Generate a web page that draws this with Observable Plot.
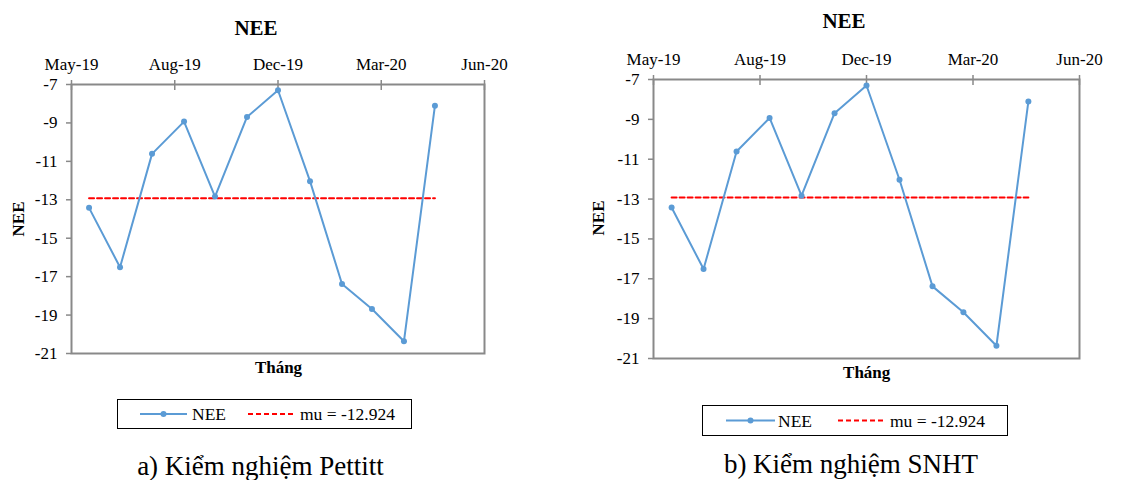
<!DOCTYPE html>
<html>
<head>
<meta charset="utf-8">
<script src="https://cdn.jsdelivr.net/npm/d3@7"></script>
<script src="https://cdn.jsdelivr.net/npm/@observablehq/plot@0.6"></script>
<style>
  html, body { margin: 0; padding: 0; background: #fff; }
  #page { position: relative; width: 1124px; height: 480px; overflow: hidden; background: #fff; font-family: "Liberation Serif", "DejaVu Serif", serif; color: #000; }
  .abs { position: absolute; white-space: nowrap; line-height: 1; }
  .title { font-size: 21px; font-weight: bold; transform: translateX(-50%); }
  .xlab { font-size: 17px; font-weight: bold; transform: translateX(-50%); }
  .ylab { font-size: 17px; font-weight: bold; transform: translate(-50%, -50%) rotate(-90deg); }
  .cap { font-size: 27px; transform: translateX(-50%); }
  .leg { font-size: 17.5px; }
  .legbox { position: absolute; border: 1.5px solid #000; box-sizing: border-box; }
  svg.mk { position: absolute; overflow: visible; }
</style>
</head>
<body>
<div id="page"></div>
<script>
// ---- data ----
const months = ["2019-06-01","2019-07-01","2019-08-01","2019-09-01","2019-10-01","2019-11-01",
                "2019-12-01","2020-01-01","2020-02-01","2020-03-01","2020-04-01","2020-05-01"];
const nee = [-13.42, -16.51, -10.61, -8.93, -12.83, -8.69, -7.30, -12.03, -17.38, -18.68, -20.36, -8.10];
const mu = -12.924;
const xTickDates = ["2019-05-15","2019-08-23","2019-12-01","2020-03-10","2020-06-18"];
const yTicks = [-7, -9, -11, -13, -15, -17, -19, -21];
const seriesName = "NEE";
const muLabel = "mu = -12.924";
const titleText = "NEE";
const xLabelText = "Tháng";
const yLabelText = "NEE";
const captions = ["a) Kiểm nghiệm Pettitt", "b) Kiểm nghiệm SNHT"];

const blue = "#5B9BD5";
const red = "#FF0000";
const axisGray = "#898989";
const serif = "Liberation Serif, DejaVu Serif, serif";

const data = months.map((m, i) => ({date: new Date(m), v: nee[i]}));
const muLine = [{date: new Date(months[0]), v: mu}, {date: new Date(months[months.length - 1]), v: mu}];
const tickDates = xTickDates.map(d => new Date(d));
const fmt = d3.utcFormat("%b-%y");

function panel(cfg) {
  return Plot.plot({
    width: cfg.width,
    height: cfg.height,
    marginLeft: cfg.ml,
    marginRight: cfg.mr,
    marginTop: cfg.mt,
    marginBottom: cfg.mb,
    style: {fontFamily: serif, fontSize: "17px", color: "#000", background: "transparent", overflow: "visible"},
    x: {type: "utc", domain: [tickDates[0], tickDates[tickDates.length - 1]]},
    y: {domain: [-21, -7]},
    marks: [
      Plot.axisX({anchor: "top", ticks: tickDates, tickFormat: fmt, tickSize: 10, dy: 5, tickPadding: 10,
                  label: null, stroke: axisGray, strokeWidth: 1.5, fill: "#000", fontSize: 17, fontFamily: serif}),
      Plot.axisY({anchor: "left", ticks: yTicks, tickFormat: d => String(d), tickSize: 5, tickPadding: 9,
                  label: null, stroke: axisGray, strokeWidth: 1.5, fill: "#000", fontSize: 17, fontFamily: serif}),
      Plot.frame({stroke: axisGray, strokeWidth: 2}),
      Plot.line(muLine, {x: "date", y: "v", stroke: red, strokeWidth: 2, strokeDasharray: "5,3"}),
      Plot.line(data, {x: "date", y: "v", stroke: blue, strokeWidth: 2}),
      Plot.dot(data, {x: "date", y: "v", r: 3, fill: blue, stroke: "none"})
    ]
  });
}

const page = document.getElementById("page");
function addDiv(cls, text, left, top) {
  const d = document.createElement("div");
  d.className = "abs " + cls;
  d.textContent = text;
  d.style.left = left + "px";
  d.style.top = top + "px";
  page.appendChild(d);
  return d;
}

const panels = [
  {left: 0, top: 44, width: 540, height: 329, ml: 71, mr: 56, mt: 40, mb: 20,
   titleX: 256, titleTop: 17.5, xlabX: 278.5, xlabTop: 358.5, ylabX: 18, ylabY: 218.5,
   box: [117, 399, 295, 30], blueL: [140, 187], redL: [248, 294], neeX: 192, muX: 300, legBase: 420.5,
   capX: 260.5, capTop: 453},
  {left: 580, top: 39, width: 544, height: 339, ml: 73, mr: 45, mt: 40, mb: 20,
   titleX: 844, titleTop: 10.7, xlabX: 866.7, xlabTop: 363.8, ylabX: 598, ylabY: 218,
   box: [702, 405, 306, 31], blueL: [726, 775], redL: [838, 885], neeX: 778, muX: 890, legBase: 427.5,
   capX: 851, capTop: 451}
];

panels.forEach((p, i) => {
  const svg = panel(p);
  svg.style.position = "absolute";
  svg.style.left = p.left + "px";
  svg.style.top = p.top + "px";
  page.appendChild(svg);

  addDiv("title", titleText, p.titleX, p.titleTop);
  addDiv("xlab", xLabelText, p.xlabX, p.xlabTop);
  addDiv("ylab", yLabelText, p.ylabX, p.ylabY);

  const box = document.createElement("div");
  box.className = "legbox";
  box.style.left = p.box[0] + "px";
  box.style.top = p.box[1] + "px";
  box.style.width = p.box[2] + "px";
  box.style.height = p.box[3] + "px";
  page.appendChild(box);

  const midY = p.box[1] + p.box[3] / 2;
  const ns = "http://www.w3.org/2000/svg";
  const mk = document.createElementNS(ns, "svg");
  mk.setAttribute("class", "mk");
  mk.setAttribute("width", 1124);
  mk.setAttribute("height", 480);
  mk.style.left = "0px"; mk.style.top = "0px";
  mk.style.pointerEvents = "none";
  const l1 = document.createElementNS(ns, "line");
  l1.setAttribute("x1", p.blueL[0]); l1.setAttribute("x2", p.blueL[1]);
  l1.setAttribute("y1", midY); l1.setAttribute("y2", midY);
  l1.setAttribute("stroke", blue); l1.setAttribute("stroke-width", 2);
  mk.appendChild(l1);
  const c1 = document.createElementNS(ns, "circle");
  c1.setAttribute("cx", (p.blueL[0] + p.blueL[1]) / 2); c1.setAttribute("cy", midY);
  c1.setAttribute("r", 3); c1.setAttribute("fill", blue);
  mk.appendChild(c1);
  const l2 = document.createElementNS(ns, "line");
  l2.setAttribute("x1", p.redL[0]); l2.setAttribute("x2", p.redL[1]);
  l2.setAttribute("y1", midY); l2.setAttribute("y2", midY);
  l2.setAttribute("stroke", red); l2.setAttribute("stroke-width", 2);
  l2.setAttribute("stroke-dasharray", "5,3");
  mk.appendChild(l2);
  page.appendChild(mk);

  addDiv("leg", seriesName, p.neeX, p.legBase - 0.8375 * 17.5);
  addDiv("leg", muLabel, p.muX, p.legBase - 0.8375 * 17.5);

  addDiv("cap", captions[i], p.capX, p.capTop);
});
</script>
</body>
</html>
